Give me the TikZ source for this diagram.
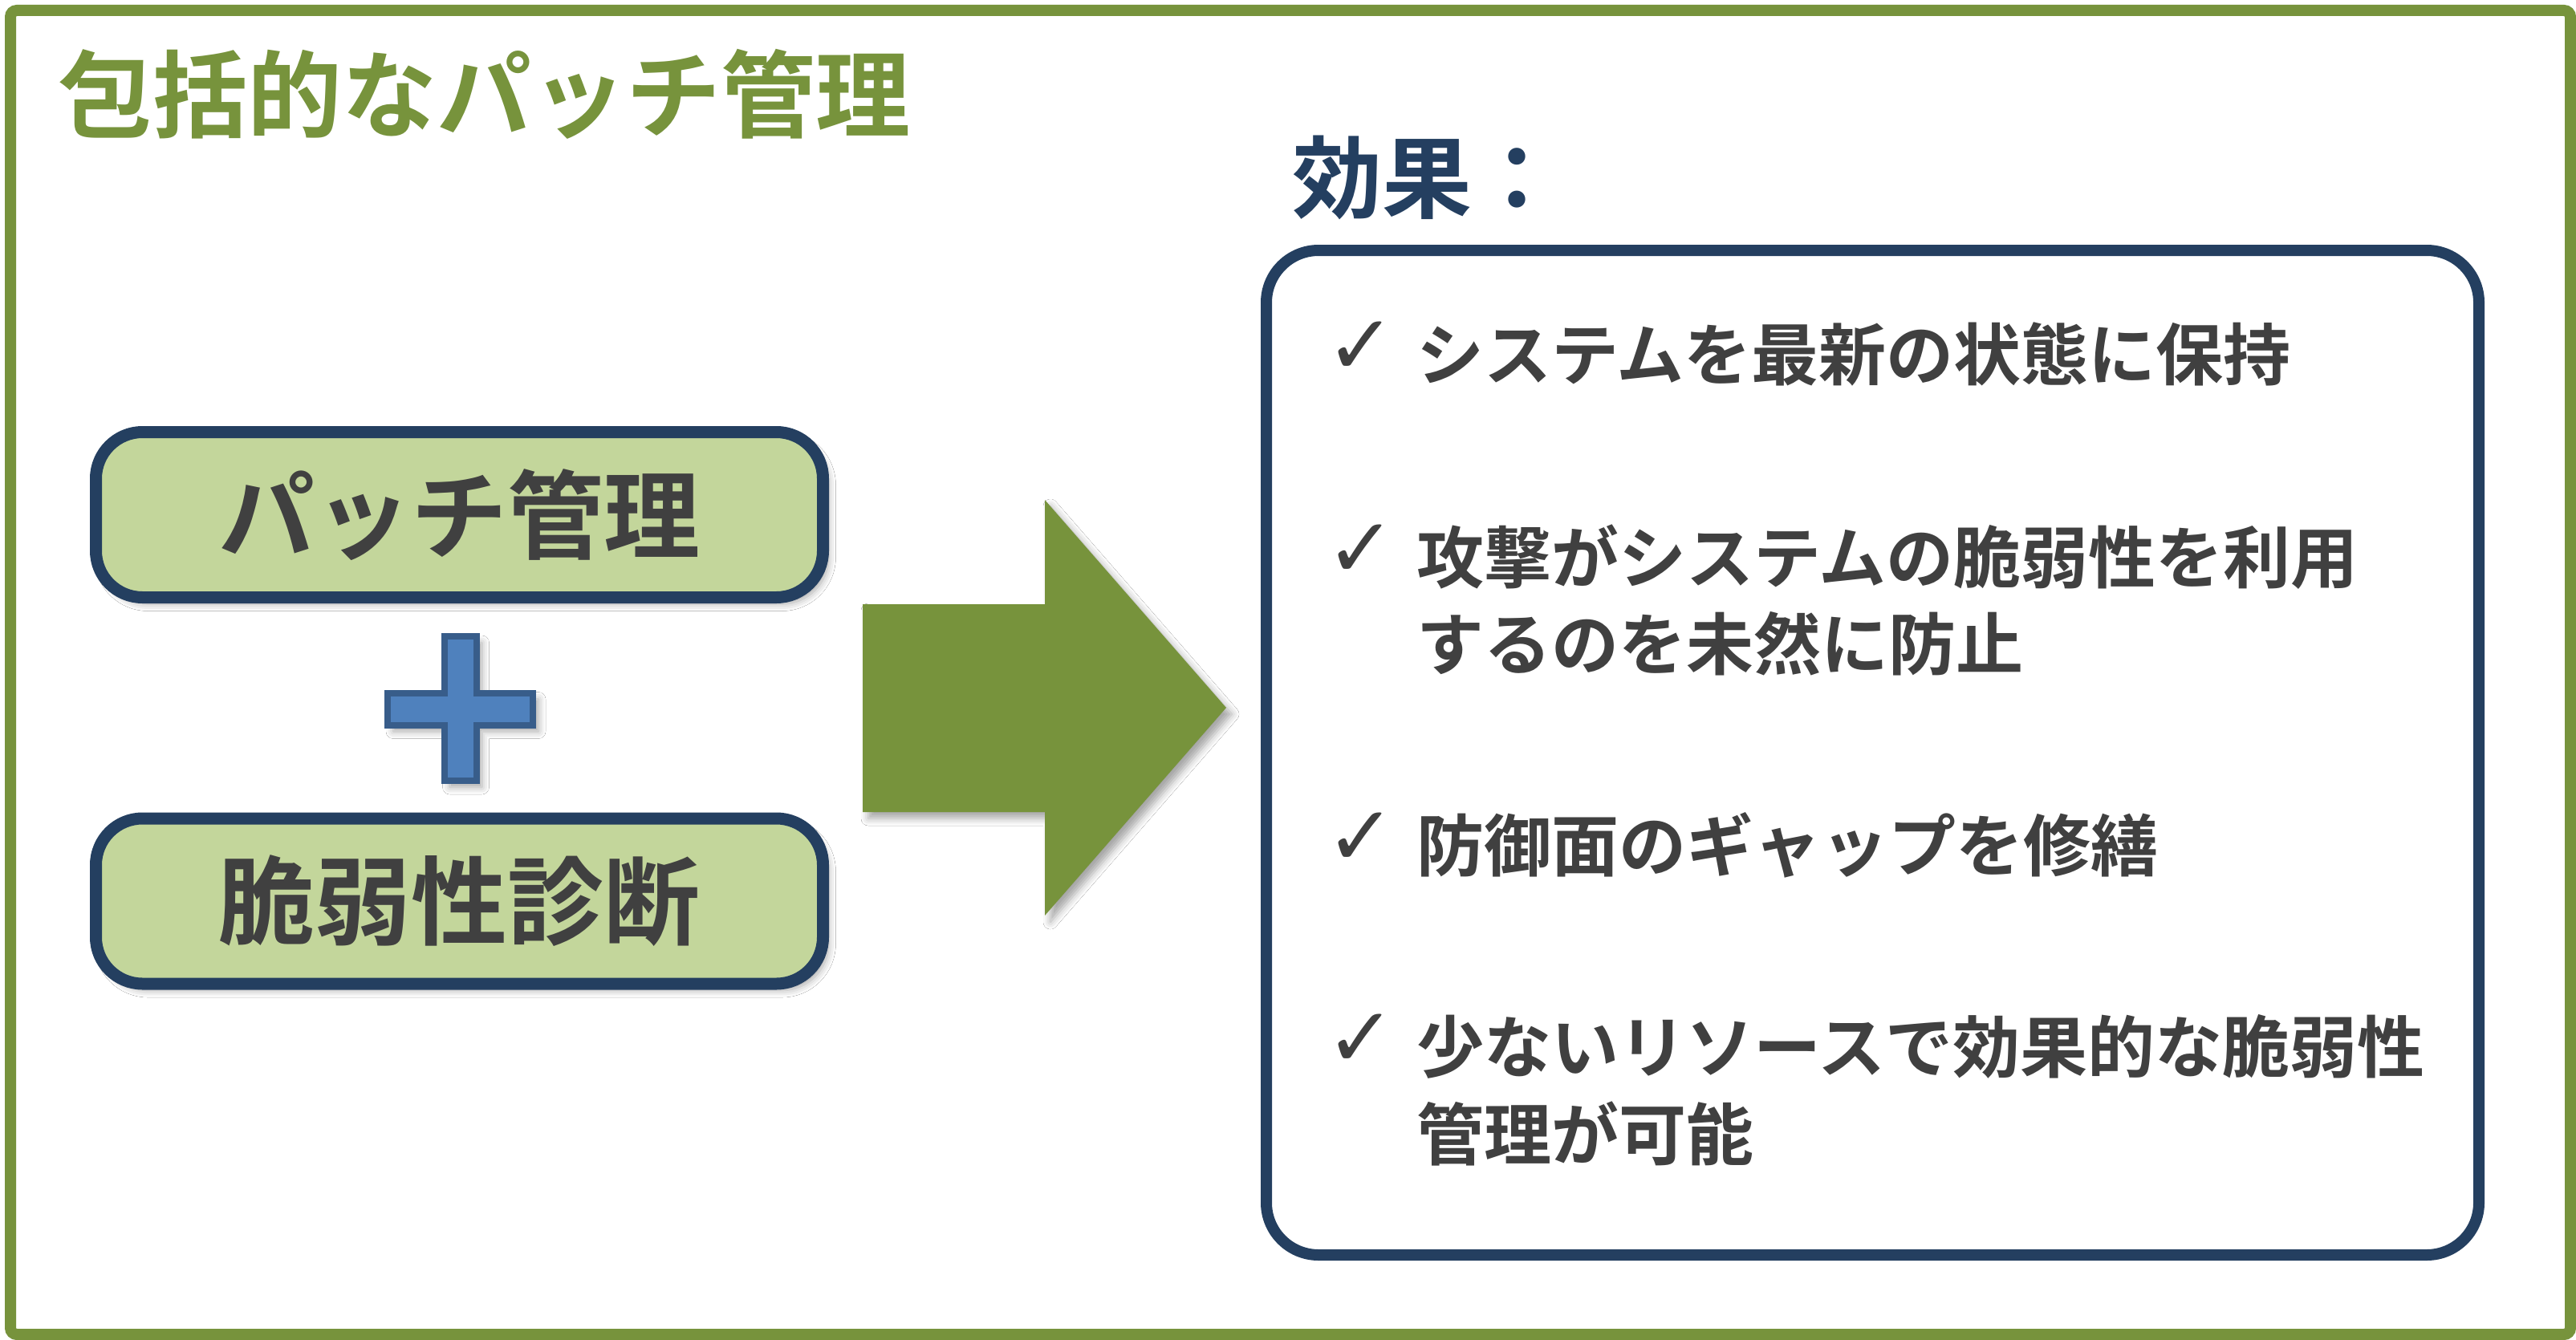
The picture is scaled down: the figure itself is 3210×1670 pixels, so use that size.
\documentclass[tikz,border=0pt]{standalone}
\usepackage{fontspec}
\newfontfamily\jp{Noto Sans CJK JP}[BoldFont={Noto Sans CJK JP Bold}]
\newfontfamily\dejavu{DejaVu Sans}
\usetikzlibrary{shadows.blur}
\definecolor{frameGreen}{HTML}{77933C}
\definecolor{navy}{HTML}{243F60}
\definecolor{boxFill}{HTML}{C3D69B}
\definecolor{plusFill}{HTML}{4F81BD}
\definecolor{plusLine}{HTML}{385D8A}
\definecolor{txt}{HTML}{404040}
\begin{document}
\begin{tikzpicture}[x=1pt,y=-1pt,
  mytitle/.style={font=\jp\bfseries\fontsize{118}{130}\selectfont, text=frameGreen, anchor=base west, inner sep=0pt},
  headline/.style={font=\jp\bfseries\fontsize{112}{124}\selectfont, text=navy, anchor=base west, inner sep=0pt},
  softshadow/.style={blur shadow={shadow xshift=7pt, shadow yshift=-8pt, shadow blur radius=9pt, shadow opacity=35}},
  sidebox/.style={draw=navy, line width=15pt, fill=boxFill, rounded corners=58pt,
    minimum width=906pt, minimum height=206pt, inner sep=0pt,
    font=\jp\bfseries\fontsize{120}{132}\selectfont, text=txt, softshadow},
  resultbox/.style={draw=navy, line width=14pt, fill=white, rounded corners=65pt,
    minimum width=1511pt, minimum height=1252pt, inner sep=0pt},
  itemtext/.style={font=\jp\bfseries\fontsize{84}{96}\selectfont, text=txt, anchor=base west, inner sep=0pt},
  tick/.style={font=\dejavu\fontsize{104}{110}\selectfont, text=txt, anchor=base west, inner sep=0pt}
]
\useasboundingbox (0,0) rectangle (3210,1670);
\fill[white] (0,0) rectangle (3210,1670);
% outer frame
\draw[frameGreen, line width=14pt, rounded corners=8pt] (13,13) rectangle (3203,1663);
% title
\node[mytitle] (title) at (72,162) {包括的なパッチ管理};
% left boxes
\node[sidebox] (patch) at (572.5,641.5) {パッチ管理};
\node[sidebox] (vuln) at (572.5,1123) {脆弱性診断};
% plus sign
\path[fill=plusFill, draw=plusLine, line width=8pt, softshadow]
  (553.5,793) -- (593.5,793) -- (593.5,863.5) -- (664,863.5) -- (664,903.5) -- (593.5,903.5)
  -- (593.5,973) -- (553.5,973) -- (553.5,903.5) -- (483,903.5) -- (483,863.5) -- (553.5,863.5) -- cycle;
% big arrow
\path[fill=frameGreen, softshadow]
  (1075,753) -- (1302,753) -- (1302,623) -- (1528,882) -- (1302,1141) -- (1302,1012) -- (1075,1012) -- cycle;
% heading
\node[headline] (head) at (1610,263) {効果：};
% result box
\node[resultbox] (res) at (2333.5,938) {};
% items
\node[tick] (c1) at (1652,466) {✓};
\node[itemtext] (t1) at (1765,473) {システムを最新の状態に保持};
\node[tick] (c2) at (1652,719) {✓};
\node[itemtext] (t2a) at (1765,726) {攻撃がシステムの脆弱性を利用};
\node[itemtext] (t2b) at (1765,834) {するのを未然に防止};
\node[tick] (c3) at (1652,1078) {✓};
\node[itemtext] (t3) at (1765,1085) {防御面のギャップを修繕};
\node[tick] (c4) at (1652,1329) {✓};
\node[itemtext] (t4a) at (1765,1336) {少ないリソースで効果的な脆弱性};
\node[itemtext] (t4b) at (1765,1445) {管理が可能};
\end{tikzpicture}
\end{document}
